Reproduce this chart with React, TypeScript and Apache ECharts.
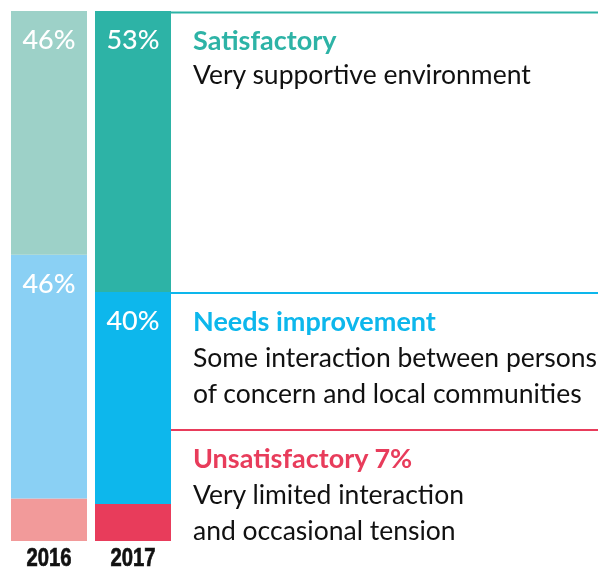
import React, { useEffect, useRef } from "react";
import * as echarts from "echarts";

const years = ["2016", "2017"];
const unsatisfactory = [8, 7];
const needsImprovement = [46, 40];
const satisfactory = [46, 53];

const colors2016 = { sat: "#9dd1c8", need: "#8ad0f4", unsat: "#f29a9a" };
const colors2017 = { sat: "#2db3a6", need: "#0db7ec", unsat: "#e83c5b" };

const GRID_TOP = 11;
const GRID_H = 530;

export default function App() {
  const ref = useRef<HTMLDivElement>(null);
  useEffect(() => {
    document.body.style.margin = "0";
    const chart = echarts.init(ref.current!, null, { renderer: "svg" });
    const yOf = (v: number) => GRID_TOP + GRID_H * (1 - v / 100);
    const font = "Lato, 'Noto Sans', sans-serif";
    const mk = (
      name: string,
      vals: number[],
      key: "sat" | "need" | "unsat",
      showLabel: boolean
    ) => ({
      name,
      type: "bar",
      stack: "all",
      barWidth: 76,
      data: vals.map((v, i) => ({
        value: v,
        itemStyle: { color: i === 0 ? colors2016[key] : colors2017[key] },
      })),
      label: {
        show: showLabel,
        position: "insideTop",
        distance: 14,
        formatter: "{c}%",
        color: "#fff",
        fontSize: 27,
        fontFamily: font,
        fontWeight: 500,
      },
    });
    const satTop2017 = yOf(100);
    const needTop2017 = yOf(needsImprovement[1] + unsatisfactory[1]);
    const redLineY = 430;
    const tx = 193;
    const heading = (text: string, y: number, color: string) => ({
      type: "text",
      x: tx,
      y,
      style: {
        text,
        fill: color,
        fontSize: 27,
        fontWeight: "bold",
        fontFamily: font,
        verticalAlign: "middle",
      },
    });
    const body = (text: string, y: number) => ({
      type: "text",
      x: tx,
      y,
      style: {
        text,
        fill: "#111",
        fontSize: 26.5,
        fontFamily: font,
        verticalAlign: "middle",
      },
    });
    chart.setOption({
      animation: false,
      grid: { left: 7, width: 168, top: GRID_TOP, height: GRID_H, containLabel: false },
      xAxis: {
        type: "category",
        data: years,
        axisLine: { show: false },
        axisTick: { show: false },
        axisLabel: { show: false },
      },
      yAxis: { type: "value", min: 0, max: 100, show: false },
      series: [
        mk("Unsatisfactory", unsatisfactory, "unsat", false),
        mk("Needs improvement", needsImprovement, "need", true),
        mk("Satisfactory", satisfactory, "sat", true),
      ],
      graphic: [
        { type: "line", shape: { x1: 171, y1: satTop2017 + 1.5, x2: 598, y2: satTop2017 + 1.5 }, style: { stroke: colors2017.sat, lineWidth: 2 } },
        { type: "line", shape: { x1: 171, y1: needTop2017 + 1, x2: 598, y2: needTop2017 + 1 }, style: { stroke: colors2017.need, lineWidth: 2 } },
        { type: "line", shape: { x1: 171, y1: redLineY, x2: 598, y2: redLineY }, style: { stroke: colors2017.unsat, lineWidth: 2 } },
        heading("Satisfactory", 39, colors2017.sat),
        body("Very supportive environment", 74),
        heading("Needs improvement", 320, colors2017.need),
        body("Some interaction between persons", 357),
        body("of concern and local communities", 393),
        heading(`Unsatisfactory ${unsatisfactory[1]}%`, 457, colors2017.unsat),
        body("Very limited interaction", 494),
        body("and occasional tension", 530),
      ],
    });
    const yearLabels = years.map((yr) => {
      const px = chart.convertToPixel({ xAxisIndex: 0 }, yr) as number;
      return {
        type: "text",
        x: px,
        y: 557,
        scaleX: 0.78,
        style: {
          text: yr,
          fill: "#111",
          stroke: "#111",
          lineWidth: 0.7,
          fontSize: 26,
          lineHeight: 16,
          fontWeight: "bold",
          fontFamily: "'Liberation Sans', Arial, sans-serif",
          align: "center",
          verticalAlign: "middle",
        },
      };
    });
    const opt = chart.getOption() as any;
    chart.setOption({ graphic: [...opt.graphic[0].elements.map(() => ({})), ...yearLabels] });
    return () => chart.dispose();
  }, []);
  return <div ref={ref} style={{ position: "fixed", left: 0, top: 0, width: 598, height: 569 }} />;
}
